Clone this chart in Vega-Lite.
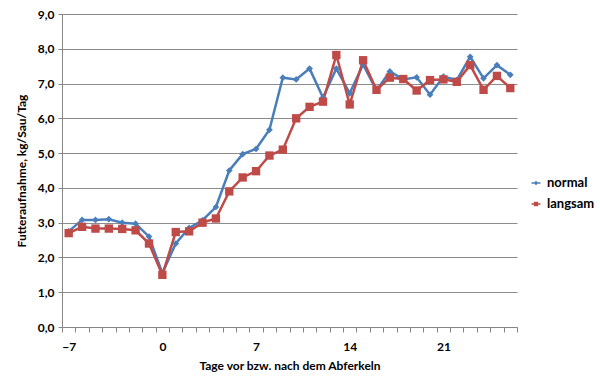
{
  "$schema": "https://vega.github.io/schema/vega-lite/v6.json",
  "autosize": "none",
  "width": 455,
  "height": 313,
  "padding": {"left": 62, "top": 14, "right": 83, "bottom": 62},
  "background": "white",
  "config": {
    "font": "Lato",
    "view": {"stroke": null},
    "axis": {"labelFont": "Lato", "labelFontWeight": "bold", "labelFontSize": 12, "labelColor": "#000", "titleFont": "Lato", "titleFontWeight": "bold", "titleFontSize": 12, "titleColor": "#000", "domainColor": "#868686", "tickColor": "#868686", "gridColor": "#8c8c8c"},
    "legend": {"labelFont": "Lato", "labelFontWeight": "bold", "labelFontSize": 13, "labelColor": "#000"}
  },
  "data": {
    "values": [
      {"tag": -7, "serie": "normal", "wert": 2.75}, {"tag": -6, "serie": "normal", "wert": 3.08}, {"tag": -5, "serie": "normal", "wert": 3.08}, {"tag": -4, "serie": "normal", "wert": 3.1}, {"tag": -3, "serie": "normal", "wert": 3.0}, {"tag": -2, "serie": "normal", "wert": 2.97}, {"tag": -1, "serie": "normal", "wert": 2.6}, {"tag": 0, "serie": "normal", "wert": 1.55}, {"tag": 1, "serie": "normal", "wert": 2.4}, {"tag": 2, "serie": "normal", "wert": 2.85}, {"tag": 3, "serie": "normal", "wert": 3.07}, {"tag": 4, "serie": "normal", "wert": 3.45}, {"tag": 5, "serie": "normal", "wert": 4.5}, {"tag": 6, "serie": "normal", "wert": 4.97}, {"tag": 7, "serie": "normal", "wert": 5.12}, {"tag": 8, "serie": "normal", "wert": 5.67}, {"tag": 9, "serie": "normal", "wert": 7.17}, {"tag": 10, "serie": "normal", "wert": 7.12}, {"tag": 11, "serie": "normal", "wert": 7.43}, {"tag": 12, "serie": "normal", "wert": 6.6}, {"tag": 13, "serie": "normal", "wert": 7.43}, {"tag": 14, "serie": "normal", "wert": 6.72}, {"tag": 15, "serie": "normal", "wert": 7.55}, {"tag": 16, "serie": "normal", "wert": 6.8}, {"tag": 17, "serie": "normal", "wert": 7.35}, {"tag": 18, "serie": "normal", "wert": 7.12}, {"tag": 19, "serie": "normal", "wert": 7.18}, {"tag": 20, "serie": "normal", "wert": 6.68}, {"tag": 21, "serie": "normal", "wert": 7.2}, {"tag": 22, "serie": "normal", "wert": 7.1}, {"tag": 23, "serie": "normal", "wert": 7.77}, {"tag": 24, "serie": "normal", "wert": 7.15}, {"tag": 25, "serie": "normal", "wert": 7.53}, {"tag": 26, "serie": "normal", "wert": 7.25},
      {"tag": -7, "serie": "langsam", "wert": 2.7}, {"tag": -6, "serie": "langsam", "wert": 2.88}, {"tag": -5, "serie": "langsam", "wert": 2.83}, {"tag": -4, "serie": "langsam", "wert": 2.83}, {"tag": -3, "serie": "langsam", "wert": 2.82}, {"tag": -2, "serie": "langsam", "wert": 2.78}, {"tag": -1, "serie": "langsam", "wert": 2.4}, {"tag": 0, "serie": "langsam", "wert": 1.5}, {"tag": 1, "serie": "langsam", "wert": 2.73}, {"tag": 2, "serie": "langsam", "wert": 2.75}, {"tag": 3, "serie": "langsam", "wert": 3.0}, {"tag": 4, "serie": "langsam", "wert": 3.12}, {"tag": 5, "serie": "langsam", "wert": 3.9}, {"tag": 6, "serie": "langsam", "wert": 4.3}, {"tag": 7, "serie": "langsam", "wert": 4.48}, {"tag": 8, "serie": "langsam", "wert": 4.93}, {"tag": 9, "serie": "langsam", "wert": 5.1}, {"tag": 10, "serie": "langsam", "wert": 6.0}, {"tag": 11, "serie": "langsam", "wert": 6.33}, {"tag": 12, "serie": "langsam", "wert": 6.48}, {"tag": 13, "serie": "langsam", "wert": 7.82}, {"tag": 14, "serie": "langsam", "wert": 6.4}, {"tag": 15, "serie": "langsam", "wert": 7.67}, {"tag": 16, "serie": "langsam", "wert": 6.82}, {"tag": 17, "serie": "langsam", "wert": 7.17}, {"tag": 18, "serie": "langsam", "wert": 7.13}, {"tag": 19, "serie": "langsam", "wert": 6.8}, {"tag": 20, "serie": "langsam", "wert": 7.1}, {"tag": 21, "serie": "langsam", "wert": 7.12}, {"tag": 22, "serie": "langsam", "wert": 7.05}, {"tag": 23, "serie": "langsam", "wert": 7.53}, {"tag": 24, "serie": "langsam", "wert": 6.82}, {"tag": 25, "serie": "langsam", "wert": 7.22}, {"tag": 26, "serie": "langsam", "wert": 6.87}
    ]
  },
  "encoding": {
    "x": {
      "field": "tag", "type": "quantitative",
      "scale": {"domain": [-7.5, 26.5], "nice": false, "zero": false},
      "axis": {
        "title": "Tage vor bzw. nach dem Abferkeln",
        "values": [-7.5, -6.5, -5.5, -4.5, -3.5, -2.5, -1.5, -0.5, 0.5, 1.5, 2.5, 3.5, 4.5, 5.5, 6.5, 7.5, 8.5, 9.5, 10.5, 11.5, 12.5, 13.5, 14.5, 15.5, 16.5, 17.5, 18.5, 19.5, 20.5, 21.5, 22.5, 23.5, 24.5, 25.5, 26.5],
        "labelExpr": "indexof([-7, 0, 7, 14, 21], datum.value + 0.5) >= 0 ? format(datum.value + 0.5, 'd') : ''",
        "labelOffset": 6.7,
        "labelOverlap": false,
        "labelFlush": false,
        "labelBound": false,
        "grid": false,
        "tickSize": 5,
        "labelPadding": 9,
        "titlePadding": 8
      }
    },
    "y": {
      "field": "wert", "type": "quantitative",
      "scale": {"domain": [0, 9], "nice": false},
      "axis": {
        "title": "Futteraufnahme, kg/Sau/Tag",
        "values": [0, 1, 2, 3, 4, 5, 6, 7, 8, 9],
        "labelExpr": "replace(format(datum.value, '.1f'), '.', ',')",
        "tickSize": 4,
        "labelPadding": 4,
        "titlePadding": 9
      }
    },
    "color": {
      "field": "serie", "type": "nominal",
      "scale": {"domain": ["normal", "langsam"], "range": ["#4a7ebb", "#be4b48"]},
      "legend": {
        "title": null, "orient": "none", "legendX": 465, "legendY": 160, "rowPadding": 5,
        "symbolSize": 324, "symbolStrokeWidth": 0, "labelOffset": 2,
        "encode": {
          "symbols": {
            "update": {
              "shape": {"signal": "datum.value === 'normal' ? 'M-0.5,-0.07H0.5V0.07H-0.5Z M0,-0.25L0.25,0L0,0.25L-0.25,0Z' : 'M-0.5,-0.07H0.5V0.07H-0.5Z M-0.24,-0.24H0.24V0.24H-0.24Z'"},
              "size": {"value": 324},
              "strokeWidth": {"value": 0},
              "fillOpacity": {"value": 1}
            }
          }
        }
      }
    }
  },
  "layer": [
    {
      "mark": {"type": "line", "strokeWidth": 2.5}
    },
    {
      "transform": [{"filter": "datum.serie === 'normal'"}],
      "mark": {"type": "point", "filled": true, "opacity": 1, "shape": "diamond", "size": 45}
    },
    {
      "transform": [{"filter": "datum.serie === 'langsam'"}],
      "mark": {"type": "point", "filled": true, "opacity": 1, "shape": "square", "size": 70}
    }
  ]
}
